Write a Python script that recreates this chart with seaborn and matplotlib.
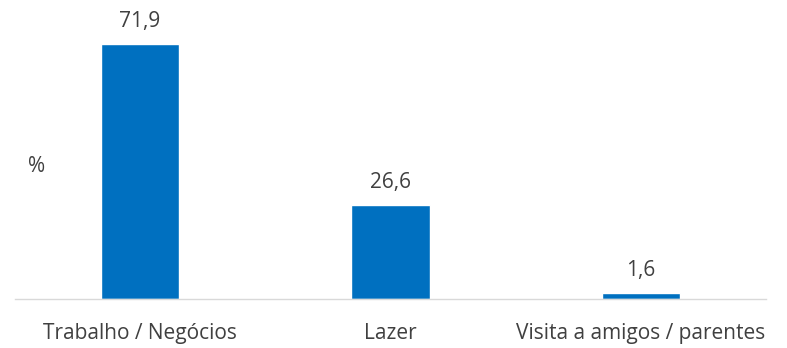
import matplotlib
matplotlib.use("Agg")
import matplotlib.pyplot as plt
import seaborn as sns
import pandas as pd

categories = ["Trabalho / Negócios", "Lazer", "Visita a amigos / parentes"]
values = [71.9, 26.6, 1.6]
value_labels = ["71,9", "26,6", "1,6"]

sns.set_style("white")
plt.rcParams['font.family'] = ['Open Sans', 'DejaVu Sans']

df = pd.DataFrame({"cat": categories, "val": values})

fig = plt.figure(figsize=(7.87, 3.48), dpi=100)
ax = fig.add_axes([14.75/787, 49/348, 751.5/787, 289/348])
sns.barplot(data=df, x="cat", y="val", color="#0070C0", width=0.315, ax=ax, saturation=1)

ax.set_xlim(-0.5, 2.5)
ax.set_ylim(0, 81.5)
for i, (v, lab) in enumerate(zip(values, value_labels)):
    ax.text(i, v + 4.8, lab, ha="center", va="baseline", fontsize=15, color="#404040")

ax.set_xlabel("")
ax.set_ylabel("")
ax.set_yticks([])
ax.tick_params(axis="x", length=0, labelsize=15, labelcolor="#404040", pad=17)
for s in ["top", "left", "right"]:
    ax.spines[s].set_visible(False)
ax.spines["bottom"].set_color("#D9D9D9")
ax.spines["bottom"].set_linewidth(1)
fig.text(37/787, 1 - 167/348, "%", ha="center", va="center", fontsize=15, color="#404040")

fig.savefig("out.png", dpi=100)
